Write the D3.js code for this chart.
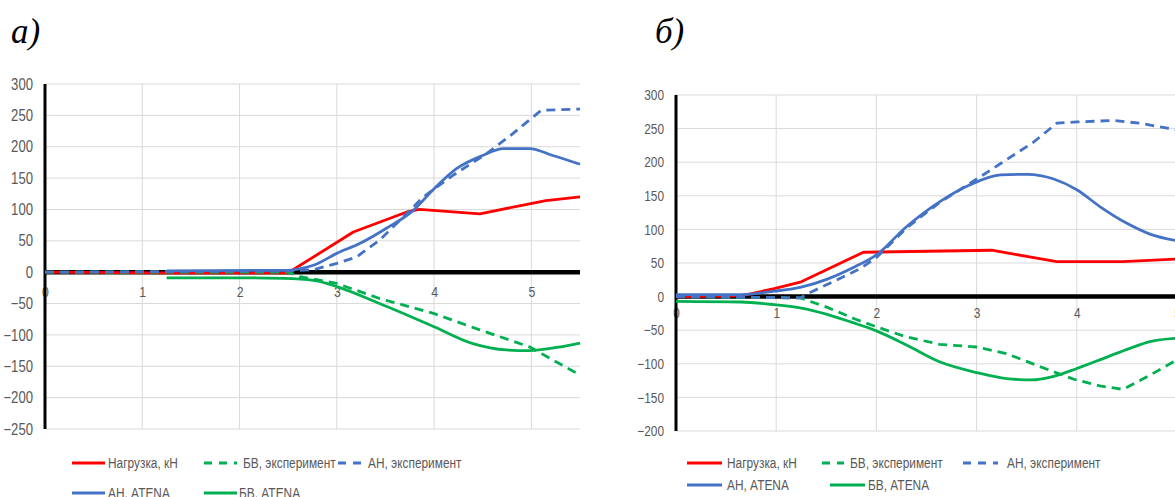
<!DOCTYPE html>
<html><head><meta charset="utf-8">
<script src="https://cdn.jsdelivr.net/npm/d3@7"></script>
<style>body{margin:0;background:#fff} svg{display:block}</style>
</head><body>
<svg id="c" width="1175" height="497"></svg>
<script>
// ---------------- data ----------------
const xTicks = [0, 1, 2, 3, 4, 5];
const yTicksA = [300, 250, 200, 150, 100, 50, 0, -50, -100, -150, -200, -250];
const yTicksB = [300, 250, 200, 150, 100, 50, 0, -50, -100, -150, -200];
const seriesNames = ["Нагрузка, кН", "БВ, эксперимент", "АН, эксперимент", "АН, ATENA", "БВ, ATENA"];
const panelTitles = ["а)", "б)"];

// panel а)
const loadA   = [[0,0],[1.25,-1],[2.5,-1],[3.17,64],[3.72,96],[3.85,100],[4.47,93],[4.98,109],[5.15,114],[5.5,120]];
const bvExpA  = [[0,0],[1.25,0],[2.5,0],[2.62,-7],[3.0,-18],[3.44,-42],[4.0,-66],[4.47,-92],[4.98,-119],[5.5,-164]];
const anExpA  = [[0,0],[1.25,1],[2.5,2],[2.76,4],[3.0,14],[3.2,24],[3.44,51],[3.65,83],[3.89,120],[4.2,155],[4.54,189],[4.81,221],[5.1,258],[5.5,260]];
const anAtA   = [[1.25,2],[2.5,3],[2.6,5],[2.76,11],[3.0,30],[3.24,46],[3.51,70],[3.79,99],[4.0,133],[4.23,165],[4.5,186],[4.71,197],[4.98,197],[5.22,186],[5.5,172]];
const bvAtA   = [[1.25,-9],[2.0,-9],[2.45,-10],[2.76,-13],[3.0,-23],[3.44,-50],[4.0,-87],[4.4,-114],[4.74,-124],[4.98,-125],[5.26,-120],[5.5,-113]];

// panel б)
const loadB   = [[0,0],[0.65,1],[0.98,12],[1.25,22],[1.87,66],[3.15,69],[3.8,52],[4.46,52],[5.0,56]];
const bvExpB  = [[0,0],[1.24,-2],[1.51,-16],[1.78,-33],[2.0,-45],[2.3,-60],[2.63,-71],[3.0,-75],[3.3,-85],[3.63,-104],[3.97,-123],[4.23,-133],[4.46,-138],[4.73,-117],[5.0,-94]];
const anExpB  = [[0,0],[0.7,-1],[1.24,-2],[1.35,7],[1.61,25],[1.84,42],[2.0,58],[2.3,102],[2.63,140],[2.97,172],[3.24,198],[3.57,230],[3.8,258],[4.0,260],[4.37,262],[4.63,258],[5.0,248]];
const anAtB   = [[0,3],[0.65,3],[0.98,8],[1.25,14],[1.51,26],[1.78,44],[2.0,62],[2.3,104],[2.63,141],[2.93,166],[3.24,181],[3.51,182],[3.77,175],[4.0,159],[4.23,134],[4.5,109],[4.73,93],[5.0,83]];
const bvAtB   = [[0,-7],[0.65,-8],[0.98,-12],[1.25,-17],[1.5,-26],[1.75,-38],[2.0,-51],[2.3,-72],[2.63,-97],[3.0,-113],[3.3,-122],[3.55,-124],[3.76,-119],[4.0,-107],[4.3,-90],[4.53,-77],[4.73,-67],[5.0,-62]];

// ---------------- styles / layout ----------------
const colors = {red:"#ff0000", green:"#00b050", blue:"#4472c4"};
const styleOf = [
  {c:colors.red,   dash:null,  smooth:false},
  {c:colors.green, dash:"9,6", smooth:false},
  {c:colors.blue,  dash:"9,6", smooth:false},
  {c:colors.blue,  dash:null,  smooth:true},
  {c:colors.green, dash:null,  smooth:true}
];
const FONT = "'Liberation Sans',Arial,sans-serif";
const SX = 0.82; // horizontal squeeze to mimic a narrow face

const panels = [
  { title: panelTitles[0], tx: 11, ty: 43,
    left: 45, right: 580, top: 84, bottom: 429, xmax: 5.5, ymin: -250, ymax: 300, yTicks: yTicksA,
    yFont: 16, xFont: 15, xLabDy: 25, yPad: 12,
    data: [loadA, bvExpA, anExpA, anAtA, bvAtA],
    legend: [
      {s:0, x1:72,  x2:105, tx:108, y:463},
      {s:1, x1:204, x2:237, tx:243, y:463},
      {s:2, x1:338, x2:362, tx:368, y:463},
      {s:3, x1:72,  x2:105, tx:108, y:493},
      {s:4, x1:204, x2:237, tx:239, y:493}
    ], lFont: 14.5 },
  { title: panelTitles[1], tx: 655, ty: 43,
    left: 676, right: 676 + 5.5*100.2, top: 95, bottom: 431, xmax: 5.5, ymin: -200, ymax: 300, yTicks: yTicksB,
    yFont: 14.5, xFont: 14.5, xLabDy: 21, yPad: 12,
    data: [loadB, bvExpB, anExpB, anAtB, bvAtB],
    legend: [
      {s:0, x1:687, x2:722, tx:727, y:463},
      {s:1, x1:822, x2:844, tx:850, y:463},
      {s:2, x1:963, x2:998, tx:1007, y:463},
      {s:3, x1:687, x2:722, tx:727, y:485},
      {s:4, x1:830, x2:865, tx:868, y:485}
    ], lFont: 14.5 }
];

const svg = d3.select("#c");

panels.forEach((p) => {
  const x = d3.scaleLinear().domain([0, p.xmax]).range([p.left, p.right]);
  const y = d3.scaleLinear().domain([p.ymin, p.ymax]).range([p.bottom, p.top]);
  const g = svg.append("g");

  // title
  g.append("text").attr("x", p.tx).attr("y", p.ty)
    .attr("font-family", "'Liberation Serif','Times New Roman',serif")
    .attr("font-style", "italic").attr("font-size", 35).attr("fill", "#000")
    .text(p.title);

  // gridlines
  g.append("g").selectAll("line").data(p.yTicks).join("line")
    .attr("x1", p.left).attr("x2", p.right)
    .attr("y1", d => y(d)).attr("y2", d => y(d))
    .attr("stroke", "#d9d9d9").attr("stroke-width", 1);
  g.append("g").selectAll("line").data(xTicks.filter(d => d > 0)).join("line")
    .attr("x1", d => x(d)).attr("x2", d => x(d))
    .attr("y1", p.top).attr("y2", p.bottom)
    .attr("stroke", "#d9d9d9").attr("stroke-width", 1);

  // y axis labels
  const yAxis = d3.axisLeft(y).tickValues(p.yTicks).tickSize(0).tickPadding(p.yPad / SX);
  const ya = g.append("g").attr("transform", `translate(${p.left},0)`).call(yAxis);
  ya.select(".domain").remove();
  ya.selectAll("text").attr("font-family", FONT).attr("font-size", p.yFont).attr("fill", "#595959")
    .attr("transform", `scale(${SX},1)`);

  // x axis labels (below zero line)
  const xAxis = d3.axisBottom(x).tickValues(xTicks).tickSize(0).tickPadding(0).tickFormat(d3.format("d"));
  const xa = g.append("g").attr("transform", `translate(0,${y(0)})`).call(xAxis);
  xa.select(".domain").remove();
  xa.selectAll("text").attr("dy", null).attr("y", p.xLabDy)
    .attr("font-family", FONT).attr("font-size", p.xFont).attr("fill", "#595959")
    .attr("transform", `scale(${SX},1)`);

  // zero line & y axis line
  g.append("line").attr("x1", p.left).attr("x2", p.right).attr("y1", y(0)).attr("y2", y(0))
    .attr("stroke", "#000").attr("stroke-width", 4.5);
  g.append("line").attr("x1", p.left).attr("x2", p.left).attr("y1", p.top).attr("y2", p.bottom)
    .attr("stroke", "#000").attr("stroke-width", 3);

  // series
  const lineS = d3.line().x(d => x(d[0])).y(d => y(d[1])).curve(d3.curveMonotoneX);
  const lineL = d3.line().x(d => x(d[0])).y(d => y(d[1]));
  p.data.forEach((ser, si) => {
    const st = styleOf[si];
    g.append("path").datum(ser).attr("d", st.smooth ? lineS : lineL)
      .attr("fill", "none").attr("stroke", st.c).attr("stroke-width", 2.8)
      .attr("stroke-dasharray", st.dash).attr("stroke-linejoin", "round");
  });

  // legend
  p.legend.forEach(L => {
    const st = styleOf[L.s];
    g.append("line").attr("x1", L.x1).attr("x2", L.x2).attr("y1", L.y).attr("y2", L.y)
      .attr("stroke", st.c).attr("stroke-width", 3).attr("stroke-dasharray", st.dash ? "8,7" : null);
    g.append("text").attr("x", 0).attr("y", 0).attr("dy", "0.36em")
      .attr("transform", `translate(${L.tx},${L.y}) scale(${SX},1)`)
      .attr("font-family", FONT).attr("font-size", p.lFont).attr("fill", "#595959")
      .text(seriesNames[L.s]);
  });
});
</script>
</body></html>
